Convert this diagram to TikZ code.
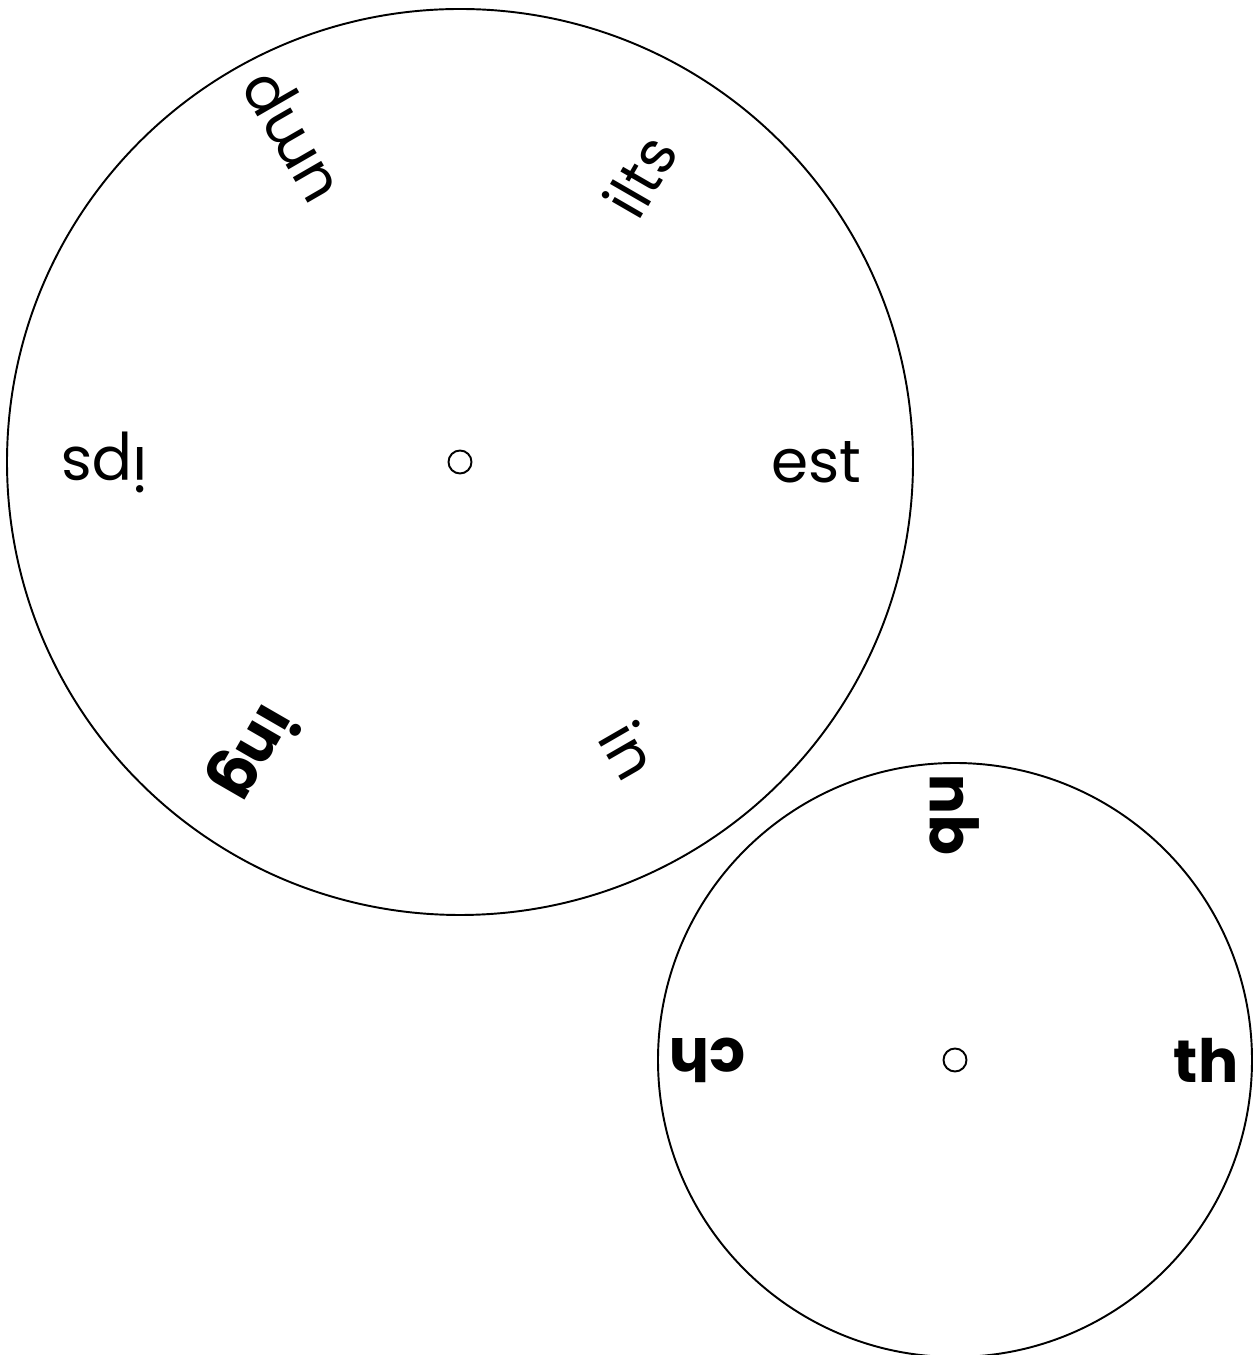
\documentclass[tikz,border=0pt]{standalone}
\usepackage{fontspec}
\setmainfont{Poppins}
\usetikzlibrary{calc}

\begin{document}
\begin{tikzpicture}[
            wheel/.style={draw, circle, line width=1.1pt, inner sep=0pt},
            hole/.style={draw, circle, line width=1.1pt, minimum size=0.46cm, inner sep=0pt},
            ending/.style={font=\fontsize{34}{40}\selectfont, inner sep=0pt},
            onset/.style={font=\fontsize{34}{40}\selectfont\bfseries, inner sep=0pt}
        ]
            \useasboundingbox (0,0) rectangle (25.18,27.1);
            % the two wheels
            \node[wheel, minimum size=18.12cm] (big) at (9.2,17.86) {};
            \node[hole] (bighole) at (big.center) {};
            \node[wheel, minimum size=11.88cm] (small) at (19.1,5.9) {};
            \node[hole] (smallhole) at (small.center) {};
            
            % endings on the big wheel
            \foreach \a/\r/\rot/\w in {0/7.12/0/est, 57.8/6.76/60/ilts, 116.6/7.33/120/ump,
                180/7.12/180/ips, 234.4/7.14/240/\textbf{ing}, 300.5/6.69/300/in}
                \node[ending, rotate=\rot] (end\rot) at ($(big.center)+(\a:\r)$) {\w};
            
            % starts on the small wheel
            \foreach \a/\r/\w in {0/5.02/th, 90/4.9/qu, 180/4.96/ch}
                \node[onset, rotate=\a] (start\a) at ($(small.center)+(\a:\r)$) {\w};
        \end{tikzpicture}
\end{document}
